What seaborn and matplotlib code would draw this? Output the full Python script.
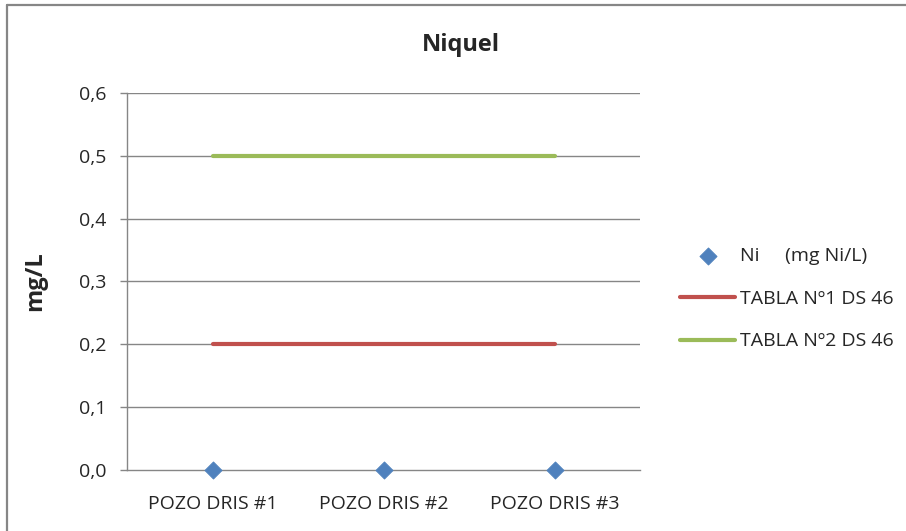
import pandas as pd
import matplotlib.pyplot as plt
import seaborn as sns
from matplotlib.lines import Line2D

# data
pozos = ["POZO DRIS #1", "POZO DRIS #2", "POZO DRIS #3"]
ni_values = [0.0, 0.0, 0.0]
tabla1 = [0.2, 0.2, 0.2]
tabla2 = [0.5, 0.5, 0.5]
yticks = [0.0, 0.1, 0.2, 0.3, 0.4, 0.5, 0.6]

sns.set_theme(style="white")
plt.rcParams['font.family'] = ['Open Sans', 'DejaVu Sans']

df = pd.DataFrame({
    "pozo": pozos,
    "x": range(len(pozos)),
    "ni": ni_values,
    "t1": tabla1,
    "t2": tabla2,
})

fig = plt.figure(figsize=(9.06, 5.31), dpi=100)
ax = fig.add_axes([0.1402, 0.1149, 0.5662, 0.7100])

grid_col = "#868686"
for v in yticks[1:]:
    ax.axhline(v, color=grid_col, lw=1, zorder=0)

sns.lineplot(data=df, x="x", y="t1", ax=ax, color="#C0504D", lw=3.0,
             label="TABLA Nº1 DS 46", zorder=2)
sns.lineplot(data=df, x="x", y="t2", ax=ax, color="#9BBB59", lw=3.0,
             label="TABLA Nº2 DS 46", zorder=2)
sns.scatterplot(data=df, x="x", y="ni", ax=ax, marker="D", s=75,
                color="#4F81BD", edgecolor="#4F81BD", label="Ni     (mg Ni/L)",
                zorder=4, clip_on=False)

ax.set_xlim(-0.5, 2.5)
ax.set_ylim(0, 0.6)
ax.set_yticks(yticks)
ax.set_yticklabels([f"{v:.1f}".replace(".", ",") for v in yticks])
ax.set_xticks(range(len(pozos)))
ax.set_xticklabels(pozos)
ax.tick_params(axis="y", length=5, width=1, color=grid_col, labelsize=14,
               pad=10, left=True)
ax.tick_params(axis="x", length=0, labelsize=14, pad=18)
for s in ["top", "right"]:
    ax.spines[s].set_visible(False)
for s in ["left", "bottom"]:
    ax.spines[s].set_color(grid_col)
    ax.spines[s].set_linewidth(1)
ax.set_xlabel("")
ax.set_ylabel("mg/L", fontsize=17, fontweight="bold")
ax.yaxis.set_label_coords(-0.156, 0.5)

# legend order: Ni, tabla1, tabla2
h, l = ax.get_legend_handles_labels()
order = [l.index("Ni     (mg Ni/L)"), l.index("TABLA Nº1 DS 46"), l.index("TABLA Nº2 DS 46")]
ax.legend([h[i] for i in order], [l[i] for i in order], loc="center left",
          bbox_to_anchor=(1.078, 0.4536), frameon=False, fontsize=14,
          handlelength=2.85, handletextpad=0.25, labelspacing=1.26,
          borderaxespad=0, borderpad=0)

fig.text(0.509, 0.915, "Niquel", ha="center", va="center", fontsize=17,
         fontweight="bold")

# chart border (only top and left edges visible in the crop)
fig.add_artist(Line2D([6.5 / 906, 1.0], [1 - 4.5 / 531, 1 - 4.5 / 531],
                      transform=fig.transFigure, color="#868686", lw=1.6))
fig.add_artist(Line2D([6.5 / 906, 6.5 / 906], [0.0, 1 - 4.5 / 531],
                      transform=fig.transFigure, color="#868686", lw=1.6))

fig.savefig("out.png", dpi=100)
